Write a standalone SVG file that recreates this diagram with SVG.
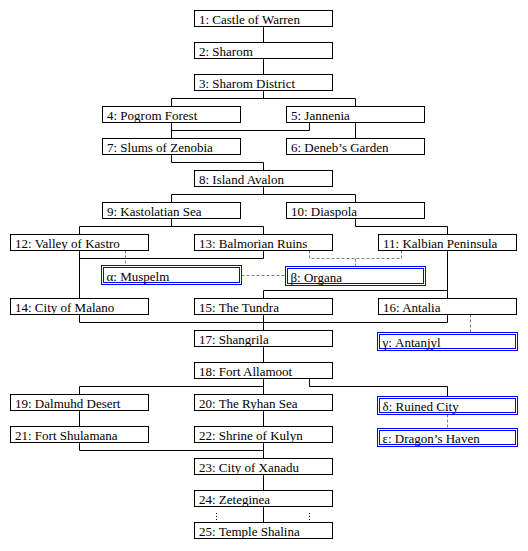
<svg xmlns="http://www.w3.org/2000/svg" width="528" height="551" viewBox="0 0 528 551" font-family="Liberation Serif, DejaVu Serif, serif" font-size="13">
<style>
.b rect{fill:#fff;stroke:#000;stroke-width:1}
.s rect{fill:#fff;stroke:#00f;stroke-width:1}
text{font-family:'Liberation Serif','DejaVu Serif',serif;font-size:13px;fill:#000}
.c path{fill:none;stroke:#000;stroke-width:1}
.d path{fill:none;stroke:#808080;stroke-width:1;stroke-dasharray:3,2}
.p path{fill:none;stroke:#000;stroke-width:1;stroke-dasharray:1,2}
</style>
<rect width="528" height="551" fill="#fff"/>
<g id="connectors">
<g class="c">
<path d="M263.5 26.5V42.5M263.5 58.5V74.5"/>
<path d="M263.5 90.5V98.5M171.5 106.5V98.5H355.5V106.5"/>
<path d="M171.5 122.5V138.5M171.5 130.5H309.5V122.5"/>
<path d="M355.5 122.5V138.5"/>
<path d="M171.5 154.5V162.5H263.5V170.5"/>
<path d="M263.5 186.5V194.5M171.5 202.5V194.5H355.5V202.5"/>
<path d="M171.5 218.5V226.5M79.5 234.5V226.5H263.5V234.5"/>
<path d="M355.5 218.5V226.5H447.5V234.5"/>
<path d="M79.5 250.5V298.5M263.5 250.5V258.5H79.5"/>
<path d="M447.5 250.5V298.5M447.5 290.5H263.5V298.5"/>
<path d="M79.5 314.5V322.5H447.5V314.5M263.5 314.5V330.5"/>
<path d="M263.5 346.5V362.5"/>
<path d="M263.5 378.5V394.5M79.5 394.5V386.5H263.5"/>
<path d="M309.5 378.5V386.5H447.5V396.5"/>
<path d="M79.5 410.5V426.5M263.5 410.5V426.5"/>
<path d="M79.5 442.5V450.5H263.5M263.5 442.5V458.5"/>
<path d="M263.5 474.5V490.5M263.5 506.5V522.5"/>
</g>
<g class="d">
<path d="M125.5 250.5V265.5"/>
<path d="M241.5 275.5H285.5"/>
<path d="M309.5 250.5V258.5H401.5V250.5M355.5 258.5V266.5"/>
<path d="M470.5 314.5V332.5"/>
<path d="M447.5 414.5V428.5"/>
</g>
<g class="p">
<path d="M216.5 513V522M309.5 513V522"/>
</g>
</g>
<g id="n1" class="b"><rect x="194.5" y="10.5" width="138" height="16"/><text x="199" y="23.5">1: Castle of Warren</text></g>
<g id="n2" class="b"><rect x="194.5" y="42.5" width="138" height="16"/><text x="199" y="55.5">2: Sharom</text></g>
<g id="n3" class="b"><rect x="194.5" y="74.5" width="138" height="16"/><text x="199" y="87.5">3: Sharom District</text></g>
<g id="n4" class="b"><rect x="102.5" y="106.5" width="138" height="16"/><text x="107" y="119.5">4: Pogrom Forest</text></g>
<g id="n5" class="b"><rect x="286.5" y="106.5" width="138" height="16"/><text x="291" y="119.5">5: Jannenia</text></g>
<g id="n7" class="b"><rect x="102.5" y="138.5" width="138" height="16"/><text x="107" y="151.5">7: Slums of Zenobia</text></g>
<g id="n6" class="b"><rect x="286.5" y="138.5" width="138" height="16"/><text x="291" y="151.5">6: Deneb’s Garden</text></g>
<g id="n8" class="b"><rect x="194.5" y="170.5" width="138" height="16"/><text x="199" y="183.5">8: Island Avalon</text></g>
<g id="n9" class="b"><rect x="102.5" y="202.5" width="138" height="16"/><text x="107" y="215.5">9: Kastolatian Sea</text></g>
<g id="n10" class="b"><rect x="286.5" y="202.5" width="138" height="16"/><text x="291" y="215.5">10: Diaspola</text></g>
<g id="n12" class="b"><rect x="10.5" y="234.5" width="138" height="16"/><text x="15" y="247.5">12: Valley of Kastro</text></g>
<g id="n13" class="b"><rect x="194.5" y="234.5" width="138" height="16"/><text x="199" y="247.5">13: Balmorian Ruins</text></g>
<g id="n11" class="b"><rect x="378.5" y="234.5" width="138" height="16"/><text x="383" y="247.5">11: Kalbian Peninsula</text></g>
<g id="alpha" class="s"><rect x="101.5" y="265.5" width="140" height="19"/><rect x="103.5" y="267.5" width="136" height="15"/><text x="106.5" y="281">α: Muspelm</text></g>
<g id="beta" class="s"><rect x="285.5" y="266.5" width="140" height="19"/><rect x="287.5" y="268.5" width="136" height="15"/><text x="290.5" y="281.5">β: Organa</text></g>
<g id="n14" class="b"><rect x="10.5" y="298.5" width="138" height="16"/><text x="15" y="311.5">14: City of Malano</text></g>
<g id="n15" class="b"><rect x="194.5" y="298.5" width="138" height="16"/><text x="199" y="311.5">15: The Tundra</text></g>
<g id="n16" class="b"><rect x="378.5" y="298.5" width="138" height="16"/><text x="383" y="311.5">16: Antalia</text></g>
<g id="n17" class="b"><rect x="194.5" y="330.5" width="138" height="16"/><text x="199" y="343.5">17: Shangrila</text></g>
<g id="gamma" class="s"><rect x="377.5" y="332.5" width="140" height="18"/><rect x="379.5" y="334.5" width="136" height="14"/><text x="382.5" y="346.5">γ: Antanjyl</text></g>
<g id="n18" class="b"><rect x="194.5" y="362.5" width="138" height="16"/><text x="199" y="375.5">18: Fort Allamoot</text></g>
<g id="n19" class="b"><rect x="10.5" y="394.5" width="138" height="16"/><text x="15" y="407.5">19: Dalmuhd Desert</text></g>
<g id="n20" class="b"><rect x="194.5" y="394.5" width="138" height="16"/><text x="199" y="407.5">20: The Ryhan Sea</text></g>
<g id="delta" class="s"><rect x="377.5" y="396.5" width="140" height="18"/><rect x="379.5" y="398.5" width="136" height="14"/><text x="382.5" y="411">δ: Ruined City</text></g>
<g id="n21" class="b"><rect x="10.5" y="426.5" width="138" height="16"/><text x="15" y="439.5">21: Fort Shulamana</text></g>
<g id="n22" class="b"><rect x="194.5" y="426.5" width="138" height="16"/><text x="199" y="439.5">22: Shrine of Kulyn</text></g>
<g id="epsilon" class="s"><rect x="377.5" y="428.5" width="140" height="18"/><rect x="379.5" y="430.5" width="136" height="14"/><text x="382.5" y="442.5">ε: Dragon’s Haven</text></g>
<g id="n23" class="b"><rect x="194.5" y="458.5" width="138" height="16"/><text x="199" y="471.5">23: City of Xanadu</text></g>
<g id="n24" class="b"><rect x="194.5" y="490.5" width="138" height="16"/><text x="199" y="503.5">24: Zeteginea</text></g>
<g id="n25" class="b"><rect x="194.5" y="522.5" width="138" height="16"/><text x="199" y="535.5">25: Temple Shalina</text></g>
</svg>
